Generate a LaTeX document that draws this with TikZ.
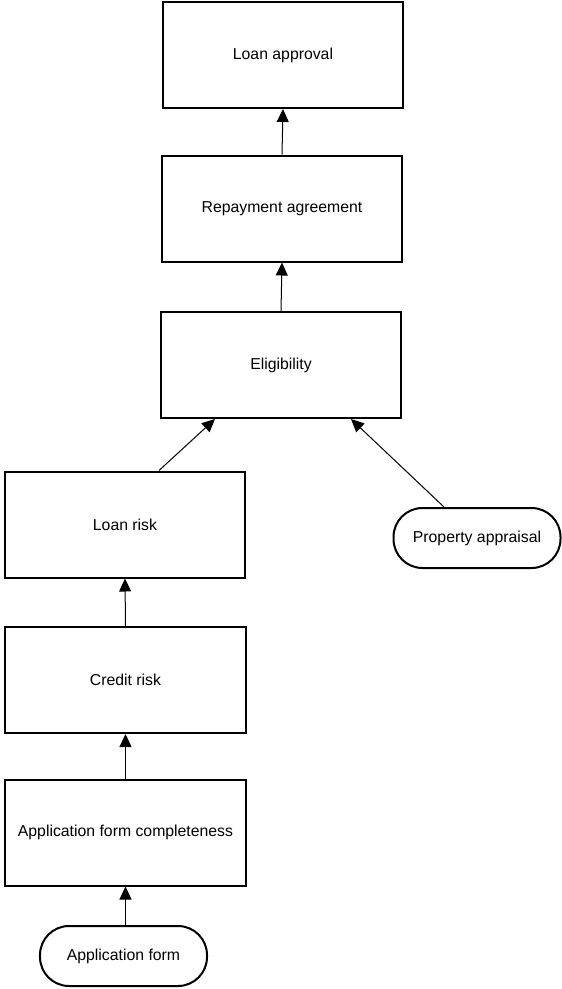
\documentclass[tikz,border=0pt]{standalone}
\usepackage{fontspec}
\setmainfont{Liberation Sans}
\usetikzlibrary{arrows.meta,calc}
\begin{document}
\begin{tikzpicture}[x=1bp,y=-1bp,
  every node/.style={font=\fontsize{15.8bp}{19bp}\selectfont, inner sep=0pt},
  stepbox/.style={draw, line width=2bp, minimum width=240bp, minimum height=106bp},
  sourcebox/.style={draw, line width=2bp, rounded corners=29bp, minimum width=167bp, minimum height=60bp},
  link/.style={line width=1bp, -{Triangle[length=13bp,width=12bp]}}]
\useasboundingbox (0,0) rectangle (562,989);
\node[stepbox] (approval) at (283,55) {Loan approval};
\node[stepbox] (repay) at (282,208.5) {Repayment agreement};
\node[stepbox] (elig) at (281,365) {Eligibility};
\node[stepbox] (loanrisk) at (125,524.5) {Loan risk};
\node[stepbox] (credit) at (125.5,680) {Credit risk};
\node[stepbox] (complete) at (125.5,832.5) {Application form completeness};
\node[sourcebox] (form) at (123.5,956) {Application form};
\node[sourcebox] (appraisal) at (477,538) {Property appraisal};
\draw[link] (repay.north) -- (approval.south);
\draw[link] (elig.north) -- (repay.south);
\draw[link] ($(loanrisk.north)+(34,0)$) -- ($(elig.south)+(-66,0)$);
\draw[link] ($(appraisal.north)+(-33,0)$) -- ($(elig.south)+(70,0)$);
\draw[link] (credit.north) -- (loanrisk.south);
\draw[link] (complete.north) -- (credit.south);
\draw[link] (complete.south |- form.north) -- (complete.south);
\end{tikzpicture}
\end{document}
